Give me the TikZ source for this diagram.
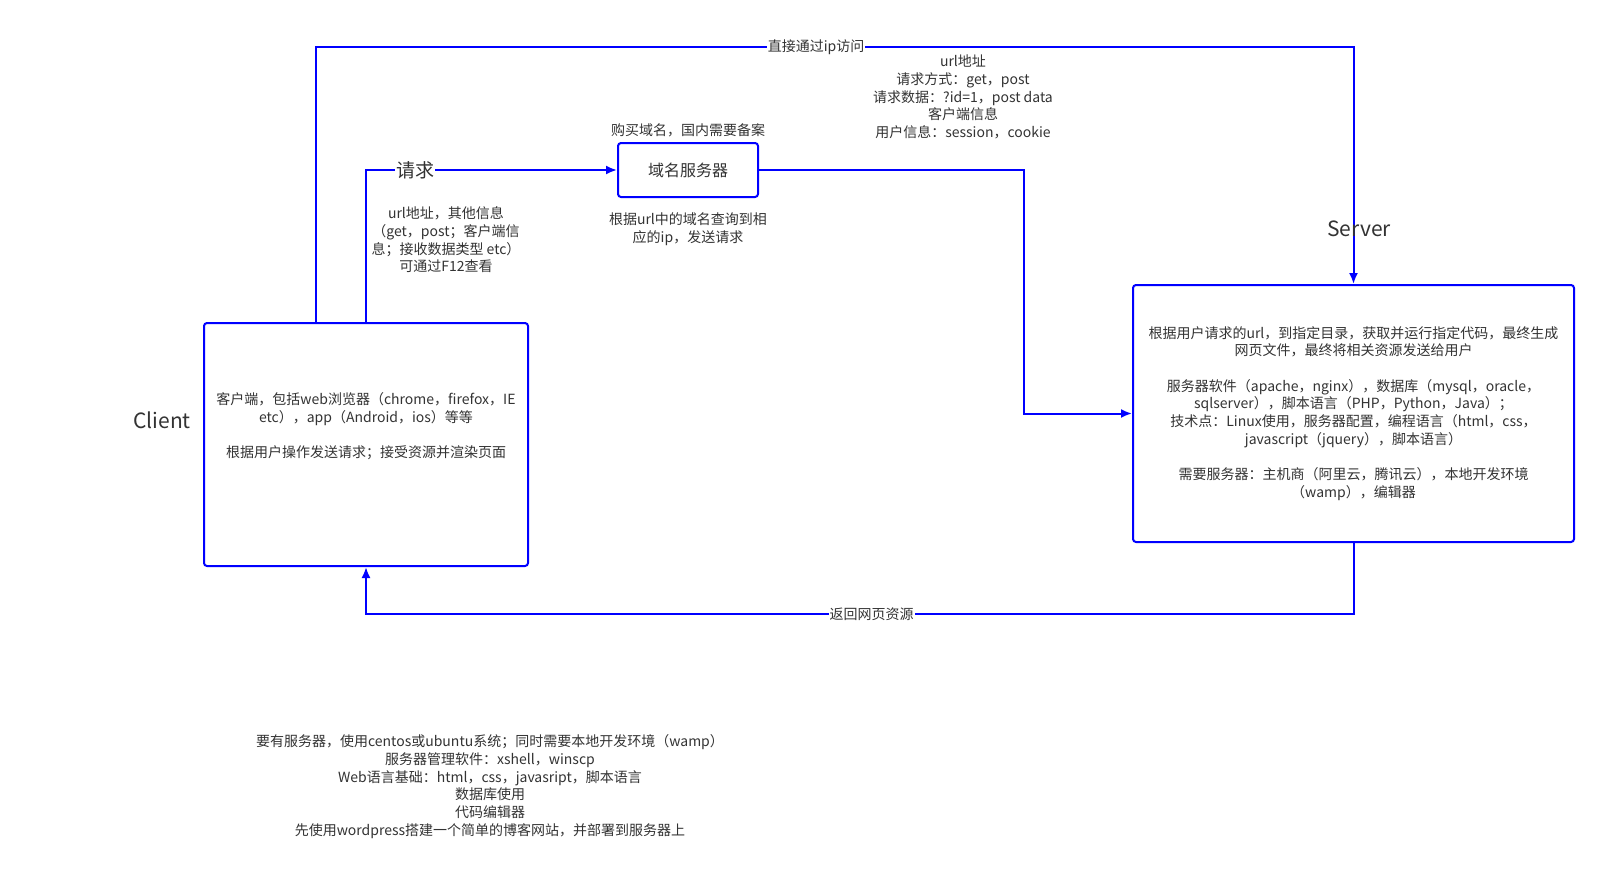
\documentclass[tikz,border=0pt]{standalone}
\usepackage{fontspec}
\setmainfont{Noto Sans CJK SC}
\usetikzlibrary{arrows.meta}
\definecolor{lineblue}{RGB}{0,0,255}
\definecolor{txtgray}{RGB}{51,51,51}
\tikzset{
  boxnode/.style={draw=lineblue, line width=2pt, rounded corners=3pt, inner sep=0pt, fill=white},
  conn/.style={draw=lineblue, line width=2pt},
  arr/.style={-{Latex[length=11pt,width=9pt]}},
  txt/.style={text=txtgray, align=center, inner sep=1pt, font={\fontsize{14}{17.7}\selectfont}},
  lbl/.style={txt, fill=white, inner sep=1pt},
  bigtxt/.style={text=txtgray, inner sep=1pt, font={\fontsize{21}{24}\selectfont}},
}
\begin{document}
\begin{tikzpicture}[x=1pt,y=-1pt]
\useasboundingbox[fill=white] (0,0) rectangle (1606,895);

% boxes
\node[boxnode, minimum width=324pt, minimum height=243pt] (client) at (366,444.5) {};
\node[boxnode, minimum width=140pt, minimum height=54pt, text=txtgray, font={\fontsize{16}{19}\selectfont}] (domain) at (688,170) {域名服务器};
\node[boxnode, minimum width=441pt, minimum height=257pt, txt] (server) at (1353.5,413.5)
 {根据用户请求的url，到指定目录，获取并运行指定代码，最终生成\\网页文件，最终将相关资源发送给用户\\[17.7pt]
  服务器软件（apache，nginx），数据库（mysql，oracle，\\sqlserver），脚本语言（PHP，Python，Java）；\\
  技术点：Linux使用，服务器配置，编程语言（html，css，\\javascript（jquery），脚本语言）\\[17.7pt]
  需要服务器：主机商（阿里云，腾讯云），本地开发环境\\（wamp），编辑器};

\node[txt] (clienttxt) at (366,426.5)
 {客户端，包括web浏览器（chrome，firefox，IE\\etc），app（Android，ios）等等\\[17.7pt]根据用户操作发送请求；接受资源并渲染页面};

% connectors
\draw[conn, arr] ([xshift=-50pt]client.north) -- ++(0,-275)
  -| node[pos=0.241, lbl] (ipl) {直接通过ip访问} (server.north);
\draw[conn, arr] (client.north) |- node[pos=0.598, lbl, font={\fontsize{19}{22}\selectfont}] (reql) {请求} (domain.west);
\draw[conn, arr] (domain.east) -| ([xshift=-108pt]server.west) -- (server.west);
\draw[conn, arr] (server.south) -- ++(0,71)
  -| node[pos=0.244, lbl] (retl) {返回网页资源} (client.south);

% labels
\node[bigtxt] (clientl) at (162,420) {Client};
\node[bigtxt] (serverl) at (1359,229) {Server};
\node[txt] (buy) at (688,130) {购买域名，国内需要备案};
\node[txt] (dns) at (688,229) {根据url中的域名查询到相\\应的ip，发送请求};
\node[txt] (reqinfo) at (446,240) {url地址，其他信息\\（get，post；客户端信\\息；接收数据类型 etc）\\可通过F12查看};
\node[txt] (httpinfo) at (963,97) {url地址\\请求方式：get，post\\请求数据：?id=1，post data\\客户端信息\\用户信息：session，cookie};
\node[txt] (notes) at (490,786.5) {要有服务器，使用centos或ubuntu系统；同时需要本地开发环境（wamp）\\服务器管理软件：xshell，winscp\\Web语言基础：html，css，javasript，脚本语言\\数据库使用\\代码编辑器\\先使用wordpress搭建一个简单的博客网站，并部署到服务器上};
\end{tikzpicture}
\end{document}
